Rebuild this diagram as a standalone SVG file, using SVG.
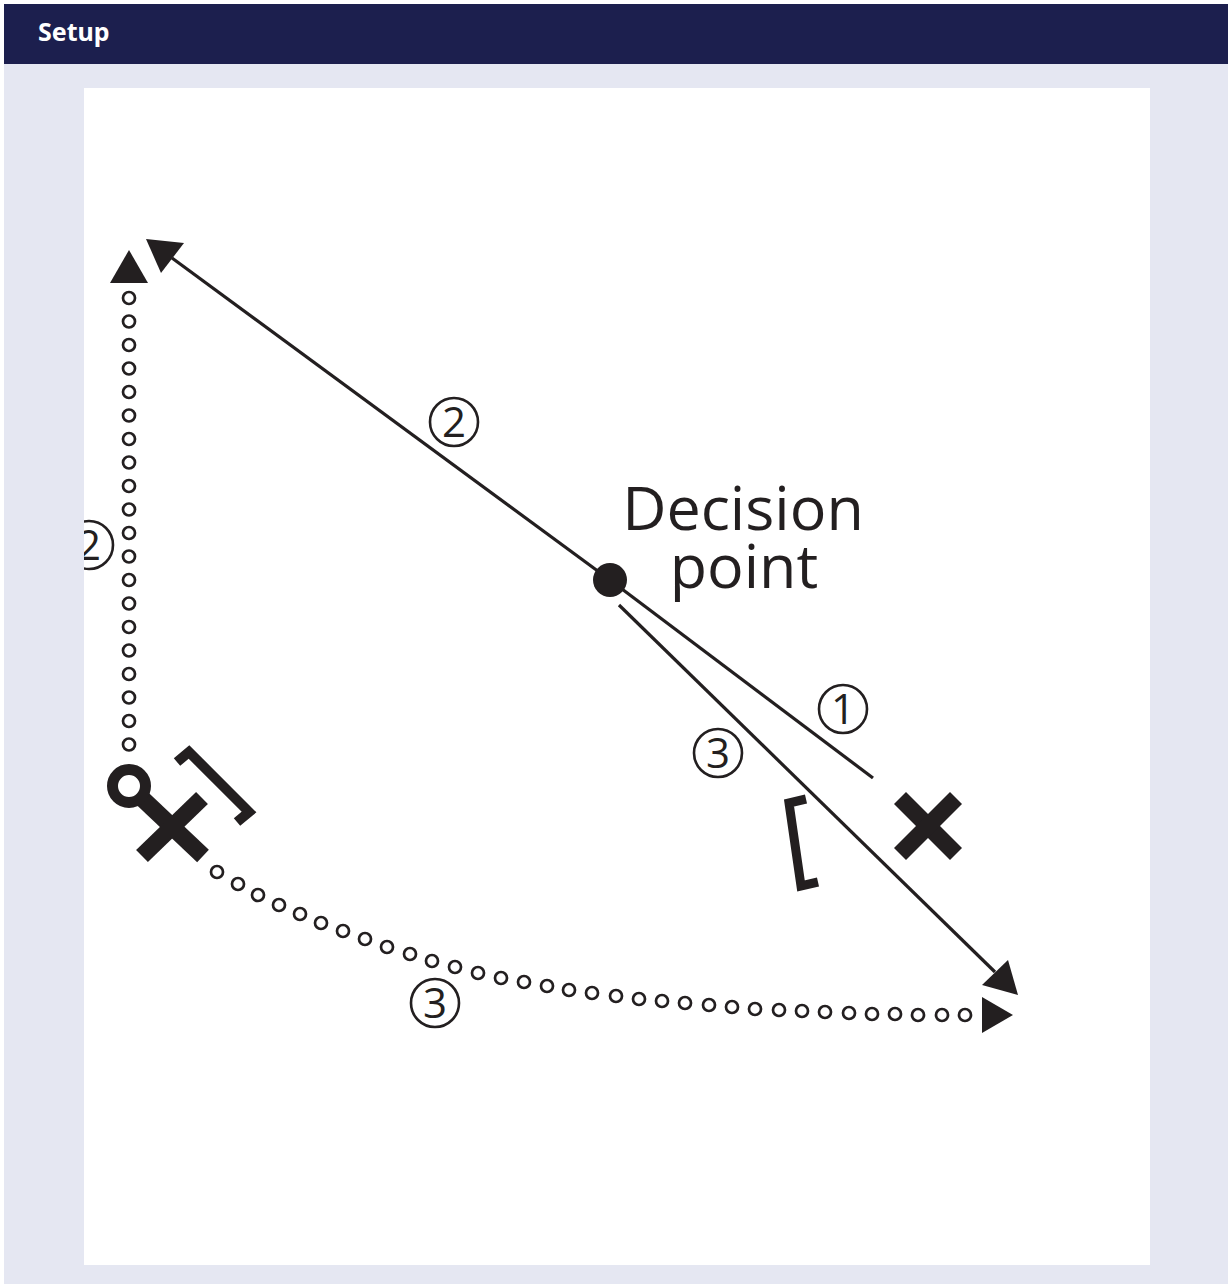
<svg xmlns="http://www.w3.org/2000/svg" width="1228" height="1284" viewBox="0 0 1228 1284">
  <defs>
    <style>
      .ln { stroke: #231f20; stroke-width: 3.2; fill: none; }
      .ah { fill: #231f20; stroke: none; }
      .dot { fill: none; stroke: #231f20; stroke-width: 2.7; }
      .cn { fill: none; stroke: #231f20; stroke-width: 2.6; }
      .cnt { font-family: "Open Sans", "Noto Sans", "DejaVu Sans", sans-serif; font-size: 42px; fill: #231f20; text-anchor: middle; }
      .thick { stroke: #231f20; fill: none; stroke-linecap: butt; }
      .lbl { font-family: "Open Sans", "Noto Sans", "DejaVu Sans", sans-serif; font-size: 61px; fill: #231f20; text-anchor: middle; }
    </style>
    <clipPath id="panel">
      <rect x="84" y="88" width="1066" height="1177"/>
    </clipPath>
  </defs>

  <rect x="0" y="0" width="1228" height="1284" fill="#ffffff"/>
  <rect x="4" y="4" width="1224" height="1280" fill="#e5e7f2"/>
  <g id="header">
    <rect x="4" y="4" width="1224" height="60" fill="#1c1f4e"/>
    <text x="38" y="41" font-family="'Noto Sans', 'Liberation Sans', sans-serif" font-weight="bold" font-size="25" fill="#ffffff">Setup</text>
  </g>
  <rect id="panel-bg" x="84" y="88" width="1066" height="1177" fill="#ffffff"/>

  <g id="connectors">
    <line class="ln" x1="610" y1="580" x2="172" y2="258"/>
    <polygon class="ah" points="146,239 184,243 161,273"/>
    <line class="ln" x1="610" y1="580" x2="873" y2="778"/>
    <line class="ln" x1="619" y1="605" x2="995" y2="972"/>
    <polygon class="ah" points="1018,995 982,985 1008,960"/>
    <g id="dotted-vertical">
      <circle class="dot" cx="129" cy="298" r="6"/>
      <circle class="dot" cx="129" cy="321.5" r="6"/>
      <circle class="dot" cx="129" cy="345" r="6"/>
      <circle class="dot" cx="129" cy="368.5" r="6"/>
      <circle class="dot" cx="129" cy="392" r="6"/>
      <circle class="dot" cx="129" cy="415.5" r="6"/>
      <circle class="dot" cx="129" cy="439" r="6"/>
      <circle class="dot" cx="129" cy="462.5" r="6"/>
      <circle class="dot" cx="129" cy="486" r="6"/>
      <circle class="dot" cx="129" cy="509.5" r="6"/>
      <circle class="dot" cx="129" cy="533" r="6"/>
      <circle class="dot" cx="129" cy="556.5" r="6"/>
      <circle class="dot" cx="129" cy="580" r="6"/>
      <circle class="dot" cx="129" cy="603.5" r="6"/>
      <circle class="dot" cx="129" cy="627" r="6"/>
      <circle class="dot" cx="129" cy="650.5" r="6"/>
      <circle class="dot" cx="129" cy="674" r="6"/>
      <circle class="dot" cx="129" cy="697.5" r="6"/>
      <circle class="dot" cx="129" cy="721" r="6"/>
      <circle class="dot" cx="129" cy="744.5" r="6"/>
      <polygon class="ah" points="129,250 148,283 110,283"/>
    </g>
    <g id="dotted-curve">
      <circle class="dot" cx="217" cy="872" r="6"/>
      <circle class="dot" cx="238" cy="884" r="6"/>
      <circle class="dot" cx="258" cy="895" r="6"/>
      <circle class="dot" cx="279" cy="905" r="6"/>
      <circle class="dot" cx="300" cy="914" r="6"/>
      <circle class="dot" cx="321" cy="923" r="6"/>
      <circle class="dot" cx="343" cy="931" r="6"/>
      <circle class="dot" cx="365" cy="939" r="6"/>
      <circle class="dot" cx="387" cy="947" r="6"/>
      <circle class="dot" cx="410" cy="954" r="6"/>
      <circle class="dot" cx="432" cy="961" r="6"/>
      <circle class="dot" cx="455" cy="967" r="6"/>
      <circle class="dot" cx="478" cy="973" r="6"/>
      <circle class="dot" cx="501" cy="978" r="6"/>
      <circle class="dot" cx="524" cy="982" r="6"/>
      <circle class="dot" cx="547" cy="986" r="6"/>
      <circle class="dot" cx="569" cy="990" r="6"/>
      <circle class="dot" cx="592" cy="993" r="6"/>
      <circle class="dot" cx="616" cy="996" r="6"/>
      <circle class="dot" cx="639" cy="999" r="6"/>
      <circle class="dot" cx="662" cy="1001" r="6"/>
      <circle class="dot" cx="685" cy="1003" r="6"/>
      <circle class="dot" cx="709" cy="1005" r="6"/>
      <circle class="dot" cx="732" cy="1007" r="6"/>
      <circle class="dot" cx="755" cy="1009" r="6"/>
      <circle class="dot" cx="779" cy="1010" r="6"/>
      <circle class="dot" cx="802" cy="1011" r="6"/>
      <circle class="dot" cx="825" cy="1012" r="6"/>
      <circle class="dot" cx="849" cy="1013" r="6"/>
      <circle class="dot" cx="872" cy="1014" r="6"/>
      <circle class="dot" cx="895" cy="1014" r="6"/>
      <circle class="dot" cx="918" cy="1015" r="6"/>
      <circle class="dot" cx="942" cy="1015" r="6"/>
      <circle class="dot" cx="965" cy="1015" r="6"/>
      <polygon class="ah" points="1013,1015 982,997 982,1033"/>
    </g>
  </g>

  <g id="decision-point">
    <circle cx="610" cy="580" r="17" fill="#231f20"/>
    <text class="lbl"><tspan x="743" y="530">Decision</tspan><tspan x="744" y="588">point</tspan></text>
  </g>

  <g id="start-marker">
    <line class="thick" x1="129" y1="786" x2="203" y2="856" stroke-width="17"/>
    <line class="thick" x1="142" y1="856" x2="202" y2="798" stroke-width="17"/>
    <circle cx="129" cy="786" r="16.5" fill="#ffffff" stroke="#231f20" stroke-width="11"/>
    <polyline class="thick" points="177,762 189,752 249,812 237,822" stroke-width="10" stroke-linejoin="miter"/>
  </g>

  <g id="target-x">
    <line class="thick" x1="900" y1="798" x2="956" y2="854" stroke-width="17"/>
    <line class="thick" x1="900" y1="854" x2="956" y2="798" stroke-width="17"/>
  </g>

  <g id="bracket-right">
    <polyline class="thick" points="806,799 789,803 801,886 818,882" stroke-width="9" stroke-linejoin="miter"/>
  </g>

  <g id="label-2-main">
    <circle class="cn" cx="454" cy="422" r="24"/>
    <text class="cnt" x="454" y="437">2</text>
  </g>
  <g id="label-1">
    <circle class="cn" cx="843" cy="709" r="24"/>
    <text class="cnt" x="843" y="724">1</text>
  </g>
  <g id="label-3-line">
    <circle class="cn" cx="718" cy="753" r="24"/>
    <text class="cnt" x="718" y="768">3</text>
  </g>
  <g id="label-3-curve">
    <circle class="cn" cx="435" cy="1003" r="24"/>
    <text class="cnt" x="435" y="1018">3</text>
  </g>
  <g id="label-2-left" clip-path="url(#panel)">
    <circle class="cn" cx="89" cy="545" r="24"/>
    <text class="cnt" x="89" y="560">2</text>
  </g>
</svg>
